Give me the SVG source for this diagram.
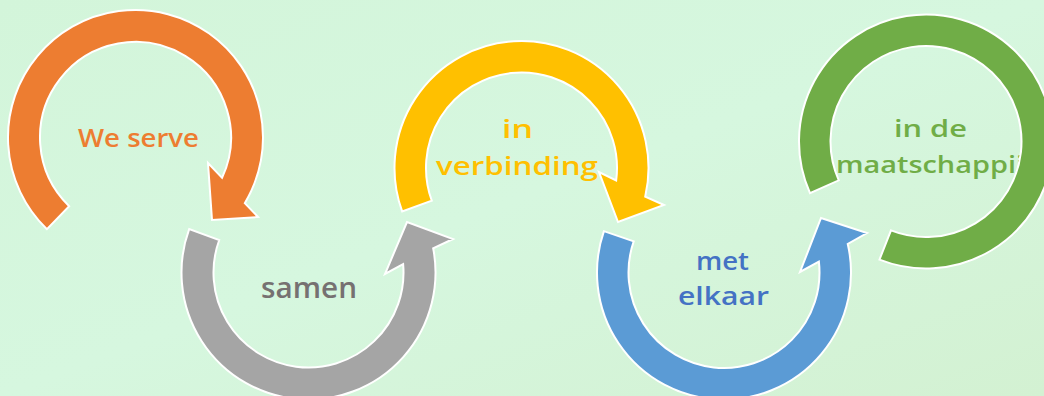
<svg xmlns="http://www.w3.org/2000/svg" width="1044" height="396" viewBox="0 0 1044 396">
<defs>
<linearGradient id="bg" x1="0" y1="0" x2="1" y2="1">
<stop offset="0" stop-color="#d3f5da"/>
<stop offset="0.5" stop-color="#d6f7df"/>
<stop offset="1" stop-color="#d3f1d2"/>
</linearGradient>
<style>
.ring{stroke:#ffffff;stroke-width:2;stroke-linejoin:miter}
.lbl{font-family:"Open Sans","DejaVu Sans",sans-serif;font-weight:600;text-anchor:middle}
</style>
</defs>
<rect width="1044" height="396" fill="url(#bg)"/>
<g id="node-we-serve">
<path class="ring" fill="#ED7D31" d="M46.93,229.21 A127.5,127.5 0 1 1 244.79,203.16 L258,217 L212,220 L208,163 L222.05,177.86 A95.5,95.5 0 1 0 69.16,206.19 Z"/>
<text class="lbl" x="138.5" y="147" font-size="25" fill="#ED7D31" textLength="121" lengthAdjust="spacingAndGlyphs">We serve</text>
</g>
<g id="node-samen">
<path class="ring" fill="#A5A5A5" d="M189.16,229.07 A127,127 0 1 0 433.17,248.27 L453,239 L407,222 L385,274 L403.14,264.22 A95,95 0 1 1 219.23,240.01 Z"/>
<text class="lbl" x="309" y="298" font-size="28" fill="#767171" textLength="96" lengthAdjust="spacingAndGlyphs">samen</text>
</g>
<g id="node-in-verbinding">
<path class="ring" fill="#FFC000" d="M402.16,211.43 A127,127 0 1 1 645.25,196.57 L664,205 L618,222 L599,172 L616.18,180.46 A95.5,95.5 0 1 0 431.76,200.66 Z"/>
<text class="lbl" x="517.5" y="138" font-size="25" fill="#FFC000" textLength="31" lengthAdjust="spacingAndGlyphs">in</text>
<text class="lbl" x="517" y="175" font-size="25" fill="#FFC000" textLength="162" lengthAdjust="spacingAndGlyphs">verbinding</text>
</g>
<g id="node-met-elkaar">
<path class="ring" fill="#5B9BD5" d="M603.92,231.15 A127,127 0 1 0 847.75,243.93 L867,233 L821,218 L800,272 L818.89,261.69 A95.5,95.5 0 1 1 633.70,241.41 Z"/>
<text class="lbl" x="722.5" y="270" font-size="25" fill="#4472C4" textLength="53" lengthAdjust="spacingAndGlyphs">met</text>
<text class="lbl" x="723.5" y="305" font-size="25" fill="#4472C4" textLength="91" lengthAdjust="spacingAndGlyphs">elkaar</text>
</g>
<g id="node-in-de-maatschappij">
<text class="lbl" x="930.5" y="137" font-size="24" fill="#70AD47" textLength="73" lengthAdjust="spacingAndGlyphs">in de</text>
<text class="lbl" x="930" y="173" font-size="24" fill="#70AD47" textLength="188" lengthAdjust="spacingAndGlyphs">maatschappij</text>
<path class="ring" fill="#70AD47" d="M809.98,193.15 A127,127 0 1 1 879.45,259.66 L891,230.35 A95.5,95.5 0 1 0 838.76,180.34 Z"/>
</g>
<g id="connectors"/>
</svg>
